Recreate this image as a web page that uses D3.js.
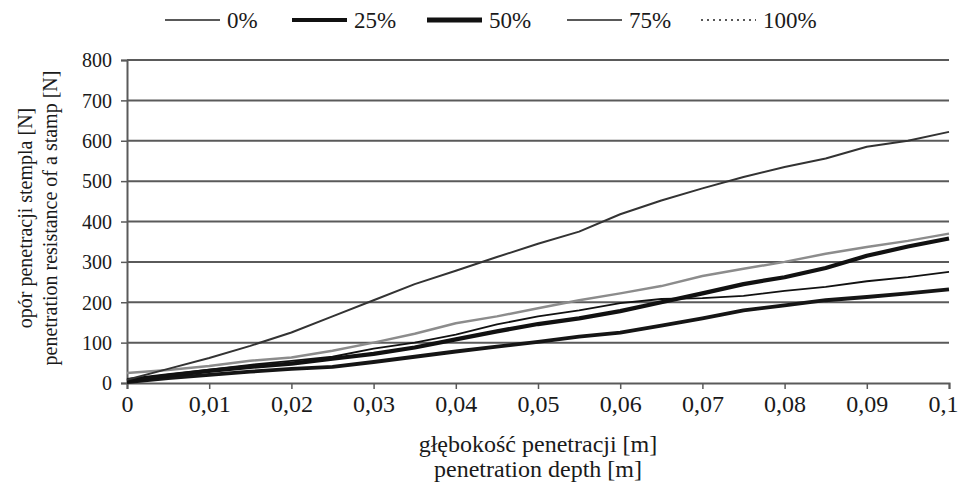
<!DOCTYPE html>
<html><head><meta charset="utf-8">
<script src="https://cdn.jsdelivr.net/npm/d3@7"></script>
<style>
html,body{margin:0;padding:0;background:#fff;}
svg text{font-family:"Liberation Serif","Times New Roman",serif;fill:#1a1a1a;}
</style></head>
<body><svg id="c" width="959" height="485"></svg>
<script>
const depth = [0,0.005,0.01,0.015,0.02,0.025,0.03,0.035,0.04,0.045,0.05,0.055,0.06,0.065,0.07,0.075,0.08,0.085,0.09,0.095,0.1];
const s0   = [10,22,33,45,55,65,85,100,120,145,165,180,198,208,210,216,228,238,252,262,275];
const s25  = [2,12,20,28,35,40,52,65,78,90,102,115,125,142,160,180,192,205,213,222,232];
const s50  = [5,18,30,40,48,60,72,88,108,128,146,160,178,200,222,245,262,285,315,338,358];
const s75  = [8,35,62,92,125,165,205,245,278,312,345,375,418,452,482,510,535,556,585,600,622];
const s100 = [25,32,42,55,63,80,100,122,148,165,185,205,222,240,265,283,300,320,337,352,370];
const seriesNames = ["0%","25%","50%","75%","100%"];
const xTicks = [0,0.01,0.02,0.03,0.04,0.05,0.06,0.07,0.08,0.09,0.1];
const yTicks = [0,100,200,300,400,500,600,700,800];

const styles = {
  "0%":  {color:"#111", width:1.8},
  "25%": {color:"#151515", width:3.8},
  "50%": {color:"#111", width:4.2},
  "75%": {color:"#333", width:2},
  "100%":{color:"#8c8c8c", width:2.5}
};
const legendStyles = {
  "0%":  {color:"#222", width:1.5, dash:null},
  "25%": {color:"#111", width:4, dash:null},
  "50%": {color:"#111", width:5, dash:null},
  "75%": {color:"#222", width:1.3, dash:null},
  "100%":{color:"#222", width:1.5, dash:"2,4"}
};
const data = {"0%":s0,"25%":s25,"50%":s50,"75%":s75,"100%":s100};

const svg = d3.select("#c");
const x = d3.scaleLinear().domain([0,0.1]).range([127,949]);
const y = d3.scaleLinear().domain([0,800]).range([383,60]);
const fmt = d => d===0 ? "0" : String(+d.toFixed(2)).replace(".",",");

// gridlines
svg.append("g").selectAll("line").data(yTicks.filter(d=>d>0)).join("line")
  .attr("x1",x(0)).attr("x2",x(0.1)).attr("y1",d=>y(d)).attr("y2",d=>y(d))
  .attr("stroke","#5a5a5a").attr("stroke-width",2);

// axes
const xa = svg.append("g").attr("transform",`translate(0,${y(0)})`)
  .call(d3.axisBottom(x).tickValues(xTicks).tickFormat(fmt).tickSize(6).tickPadding(9));
const ya = svg.append("g").attr("transform",`translate(${x(0)},0)`)
  .call(d3.axisLeft(y).tickValues(yTicks).tickSize(6).tickPadding(9));
[xa,ya].forEach(a=>{
  a.select(".domain").attr("stroke","#5a5a5a").attr("stroke-width",2);
  a.selectAll(".tick line").attr("stroke","#5a5a5a").attr("stroke-width",1.5);
  a.selectAll("text").attr("font-family","Liberation Serif").attr("fill","#1a1a1a");
});
ya.selectAll(".tick text").attr("font-size",20).attr("dy","0.34em");
xa.selectAll(".tick text").attr("font-size",24).attr("y",29).attr("dy","0");
xa.selectAll(".tick text").filter(d=>d===0.1).attr("text-anchor","end").attr("x",958-x(0.1));

// lines
const line = d3.line().x((d,i)=>x(depth[i])).y(d=>y(d));
const order = ["100%","0%","25%","50%","75%"];
order.forEach(k=>{
  const st = styles[k];
  svg.append("path").datum(data[k]).attr("d",line)
    .attr("fill","none").attr("stroke",st.color).attr("stroke-width",st.width)
    .attr("stroke-linejoin","round");
});

// legend
const legendTextX = [227,354,489,629,763];
const lg = svg.append("g");
seriesNames.forEach((k,i)=>{
  const st = legendStyles[k];
  const tx = legendTextX[i];
  lg.append("line").attr("x1",tx-62).attr("x2",tx-7).attr("y1",20).attr("y2",20)
    .attr("stroke",st.color).attr("stroke-width",st.width)
    .attr("stroke-dasharray",st.dash);
  lg.append("text").attr("x",tx).attr("y",28)
    .attr("font-size",23).text(k);
});

// axis titles
svg.append("text").attr("x",538).attr("y",452).attr("text-anchor","middle")
  .attr("font-size",24).text("głębokość penetracji [m]");
svg.append("text").attr("x",538).attr("y",477).attr("text-anchor","middle")
  .attr("font-size",24).text("penetration depth [m]");
svg.append("text").attr("transform","translate(25,218) rotate(-90)").attr("dy","0.34em")
  .attr("text-anchor","middle").attr("font-size",20).text("opór penetracji stempla [N]");
svg.append("text").attr("transform","translate(50,218) rotate(-90)").attr("dy","0.34em")
  .attr("text-anchor","middle").attr("font-size",20).text("penetration resistance of a stamp [N]");
</script></body></html>
